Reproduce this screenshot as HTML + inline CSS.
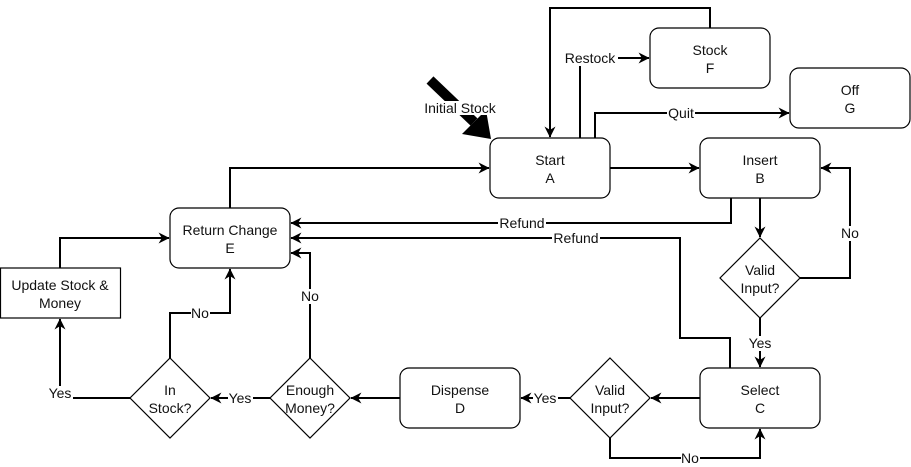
<!DOCTYPE html>
<html><head><meta charset="utf-8"><style>
html,body{margin:0;padding:0;background:#fff;}
svg{display:block;}
text{font-family:"Liberation Sans",Arial,sans-serif;font-size:14px;fill:#111;}
</style></head><body>
<svg width="911" height="467" viewBox="0 0 911 467" xmlns="http://www.w3.org/2000/svg">
<defs>
<marker id="a" viewBox="0 0 10 10" refX="9.5" refY="5" markerWidth="11" markerHeight="11" orient="auto" markerUnits="userSpaceOnUse">
<path d="M0,0 L10,5 L0,10 L3,5 Z" fill="#000"/>
</marker>
</defs>
<g fill="none" stroke="#000" stroke-width="2">
<polyline points="580,138 580,58 649,58" marker-end="url(#a)"/>
<polyline points="710,28 710,8 550,8 550,137" marker-end="url(#a)"/>
<polyline points="595,138 595,113 789,113" marker-end="url(#a)"/>
<polyline points="610,168 699,168" marker-end="url(#a)"/>
<polyline points="230,208 230,168 489,168" marker-end="url(#a)"/>
<polyline points="731,198 731,223 291,223" marker-end="url(#a)"/>
<polyline points="760,198 760,237" marker-end="url(#a)"/>
<polyline points="800,278 850,278 850,168 821,168" marker-end="url(#a)"/>
<polyline points="760,318 760,367" marker-end="url(#a)"/>
<polyline points="730,368 730,338 680,338 680,238 291,238" marker-end="url(#a)"/>
<polyline points="700,398 651,398" marker-end="url(#a)"/>
<polyline points="570,398 521,398" marker-end="url(#a)"/>
<polyline points="610,438 610,458 760,458 760,429" marker-end="url(#a)"/>
<polyline points="400,398 351,398" marker-end="url(#a)"/>
<polyline points="270,398 211,398" marker-end="url(#a)"/>
<polyline points="310,358 310,253 291,253" marker-end="url(#a)"/>
<polyline points="170,358 170,313 230,313 230,269" marker-end="url(#a)"/>
<polyline points="130,398 60,398 60,319" marker-end="url(#a)"/>
<polyline points="60,268 60,238 169,238" marker-end="url(#a)"/>
</g>
<g fill="#fff" stroke="#000" stroke-width="1.2">
<rect x="490" y="138" width="120" height="60" rx="9"/>
<rect x="700" y="138" width="120" height="60" rx="9"/>
<rect x="650" y="28" width="120" height="60" rx="9"/>
<rect x="790" y="68" width="120" height="60" rx="9"/>
<rect x="170" y="208" width="120" height="60" rx="9"/>
<rect x="700" y="368" width="120" height="60" rx="9"/>
<rect x="400" y="368" width="120" height="60" rx="9"/>
<rect x="0.5" y="268" width="120" height="50"/>
<polygon points="760,238 800,278 760,318 720,278"/>
<polygon points="610,358 650,398 610,438 570,398"/>
<polygon points="310,358 350,398 310,438 270,398"/>
<polygon points="170,358 210,398 170,438 130,398"/>
</g>
<line x1="430" y1="80" x2="474" y2="122" stroke="#000" stroke-width="10"/>
<polygon points="491,139 462,134 486,110" fill="#000"/>

<g fill="#fff">
<rect x="425" y="101" width="70" height="14"/>
<rect x="563" y="51" width="55" height="15"/>
<rect x="667" y="106" width="28" height="15"/>
<rect x="498" y="216" width="48" height="15"/>
<rect x="552" y="231" width="48" height="15"/>
<rect x="841" y="226" width="19" height="15"/>
<rect x="747" y="336" width="26" height="15"/>
<rect x="533" y="391" width="25" height="15"/>
<rect x="681" y="451" width="19" height="15"/>
<rect x="228" y="391" width="25" height="15"/>
<rect x="301" y="289" width="19" height="15"/>
<rect x="191" y="306" width="19" height="15"/>
<rect x="48" y="386" width="25" height="15"/>
</g>
<g text-anchor="middle">
<text x="460" y="113" font-size="12.5">Initial Stock</text>
<text x="590" y="63">Restock</text>
<text x="681" y="118">Quit</text>
<text x="522" y="228">Refund</text>
<text x="576" y="243">Refund</text>
<text x="850" y="238">No</text>
<text x="760" y="348">Yes</text>
<text x="545" y="403">Yes</text>
<text x="690" y="463">No</text>
<text x="240" y="403">Yes</text>
<text x="310" y="301">No</text>
<text x="200" y="318">No</text>
<text x="60" y="398">Yes</text>

<text x="550" y="165">Start</text><text x="550" y="183">A</text>
<text x="760" y="165">Insert</text><text x="760" y="183">B</text>
<text x="710" y="55">Stock</text><text x="710" y="73">F</text>
<text x="850" y="95">Off</text><text x="850" y="113">G</text>
<text x="230" y="235">Return Change</text><text x="230" y="253">E</text>
<text x="760" y="395">Select</text><text x="760" y="413">C</text>
<text x="460" y="395">Dispense</text><text x="460" y="413">D</text>
<text x="60" y="290">Update Stock &amp;</text><text x="60" y="308">Money</text>
<text x="760" y="275">Valid</text><text x="760" y="293">Input?</text>
<text x="610" y="395">Valid</text><text x="610" y="413">Input?</text>
<text x="310" y="395">Enough</text><text x="310" y="413">Money?</text>
<text x="170" y="395">In</text><text x="170" y="413">Stock?</text>
</g>
</svg>
</body></html>
